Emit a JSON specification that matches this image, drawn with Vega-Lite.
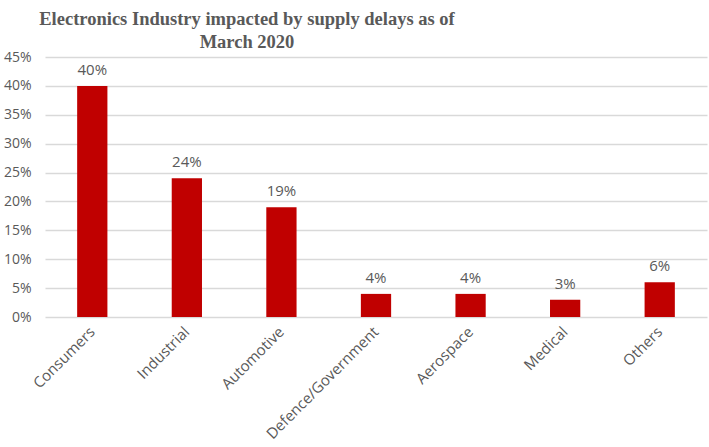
{
  "$schema": "https://vega.github.io/schema/vega-lite/v6.json",
  "width": 662,
  "height": 260,
  "autosize": {"type": "none"},
  "padding": {"left": 45, "top": 57, "right": 2, "bottom": 130},
  "background": "white",
  "title": {
    "text": ["Electronics Industry impacted by supply  delays  as of", "March 2020"],
    "font": "Liberation Serif",
    "fontSize": 18.5,
    "fontWeight": "bold",
    "color": "#595959",
    "lineHeight": 23,
    "anchor": "middle",
    "dx": -129,
    "offset": -1
  },
  "data": {
    "values": [
      {"sector": "Consumers", "share": 0.40},
      {"sector": "Industrial", "share": 0.24},
      {"sector": "Automotive", "share": 0.19},
      {"sector": "Defence/Government", "share": 0.04},
      {"sector": "Aerospace", "share": 0.04},
      {"sector": "Medical", "share": 0.03},
      {"sector": "Others", "share": 0.06}
    ]
  },
  "config": {
    "view": {"stroke": null},
    "font": "Open Sans"
  },
  "encoding": {
    "x": {
      "field": "sector",
      "type": "nominal",
      "sort": null,
      "scale": {"paddingInner": 0.68, "paddingOuter": 0.34},
      "axis": {
        "title": null,
        "labelAngle": -45,
        "labelAlign": "right",
        "labelBaseline": "middle",
        "labelFontSize": 15,
        "labelColor": "#595959",
        "labelPadding": 12,
        "ticks": false,
        "domain": false
      }
    },
    "y": {
      "field": "share",
      "type": "quantitative",
      "scale": {"domain": [0, 0.45]},
      "axis": {
        "title": null,
        "format": ".0%",
        "values": [0, 0.05, 0.1, 0.15, 0.2, 0.25, 0.3, 0.35, 0.4, 0.45],
        "labelFontSize": 14,
        "labelColor": "#595959",
        "labelPadding": 14,
        "ticks": false,
        "domain": false,
        "gridColor": "#d9d9d9",
        "gridWidth": 1.5
      }
    }
  },
  "layer": [
    {"mark": {"type": "bar", "color": "#C00000"}},
    {
      "mark": {"type": "text", "baseline": "bottom", "dy": -8, "fontSize": 15, "color": "#595959"},
      "encoding": {"text": {"field": "share", "type": "quantitative", "format": ".0%"}}
    }
  ]
}
